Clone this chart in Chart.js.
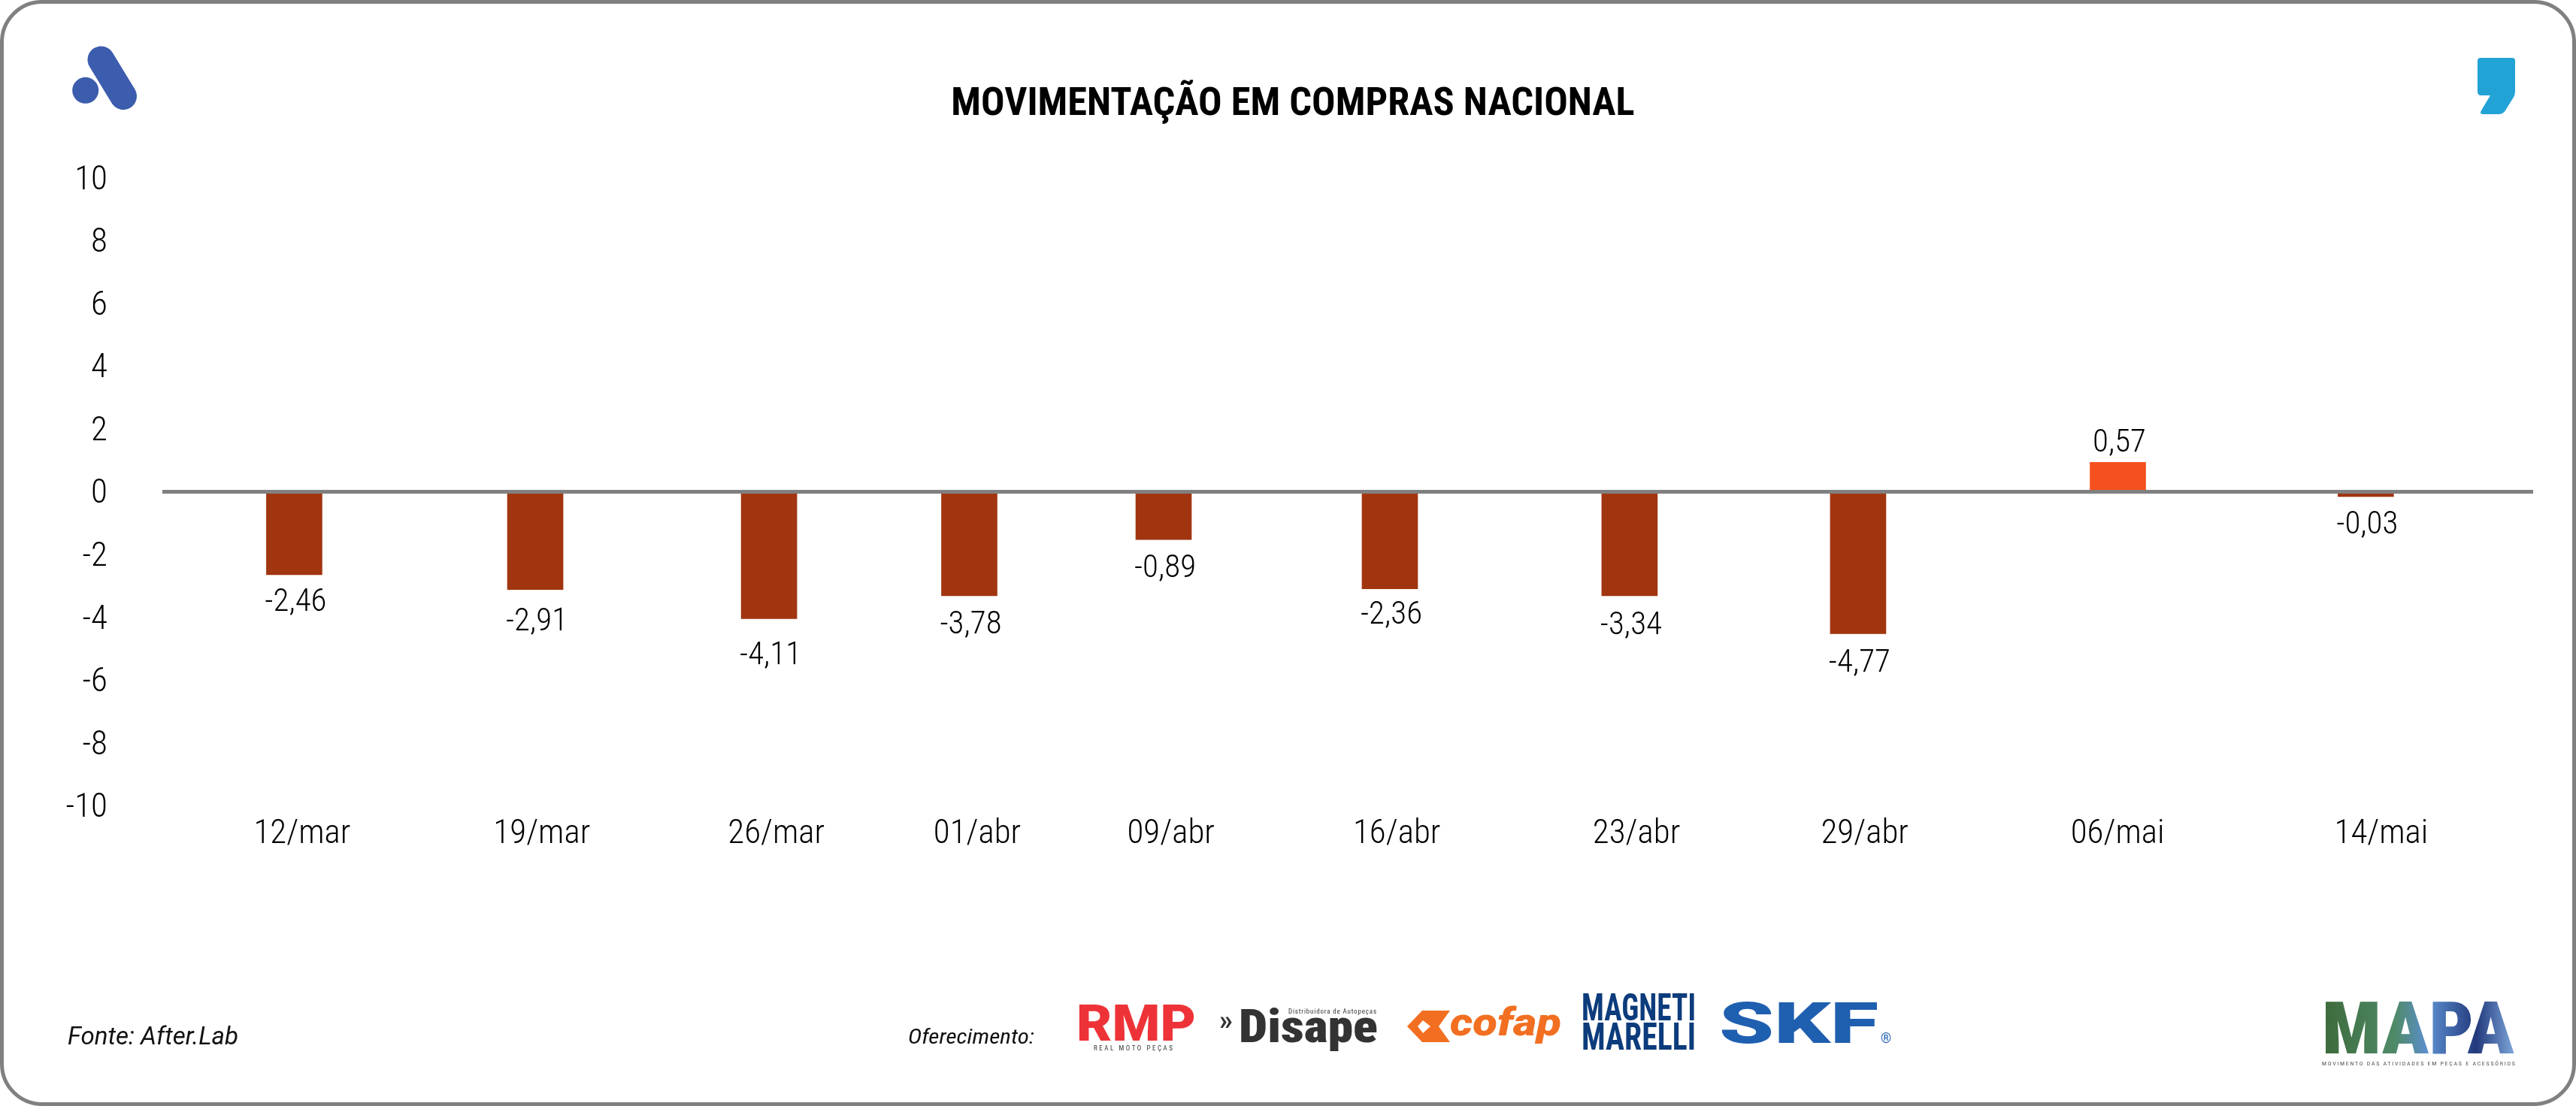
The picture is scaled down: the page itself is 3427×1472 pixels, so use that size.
<!DOCTYPE html>
<html lang="pt-BR">
<head>
<meta charset="utf-8">
<title>Movimentação em compras nacional</title>
<script src="https://cdn.jsdelivr.net/npm/chart.js@4"></script>
<style>
    html, body { margin: 0; background: #fff; overflow: hidden; }
    #tela { position: absolute; left: 0; top: 0; width: 3427px; height: 1472px; }
    #moldura { position: absolute; left: 0; top: 0; width: 3427px; height: 1472px; box-sizing: border-box;
        border: 5px solid #808080; border-radius: 56px; }
    #marcas { position: absolute; left: 0; top: 0; font-family: Roboto, sans-serif; }
</style>
</head>
<body>
<div id="moldura"></div>
<canvas id="tela" width="3427" height="1472"></canvas>

<svg id="marcas" width="3427" height="1472" xmlns="http://www.w3.org/2000/svg">
    <defs>
        <linearGradient id="gradMapa" x1="0" y1="0" x2="1" y2="0">
            <stop offset="0" stop-color="#3d6a3a"/>
            <stop offset="0.38" stop-color="#4f8a68"/>
            <stop offset="0.55" stop-color="#5c8fd0"/>
            <stop offset="0.8" stop-color="#22397c"/>
            <stop offset="1" stop-color="#7fa8dc"/>
        </linearGradient>
    </defs>

    <!-- logo superior esquerdo -->
    <circle cx="113.7" cy="120.3" r="17.5" fill="#3c5cad"/>
    <line x1="134.5" y1="79.5" x2="164" y2="128" stroke="#3c5cad" stroke-width="36" stroke-linecap="round"/>

    <!-- logo superior direito -->
    <path d="M3300 77 H3342 Q3346 77 3346 81 V122 Q3346 127 3343 131 L3333 147 Q3330 152 3324 152 H3304 Q3298 152 3301 147 L3313 127 H3301 Q3296 127 3296 122 V81 Q3296 77 3300 77 Z" fill="#22a3d6"/>

    <text x="90" y="1390" font-style="italic" font-size="33" textLength="227" lengthAdjust="spacingAndGlyphs" fill="#111">Fonte: After.Lab</text>
    <text x="1208" y="1389" font-style="italic" font-stretch="condensed" font-size="27" textLength="168" lengthAdjust="spacingAndGlyphs" fill="#111">Oferecimento:</text>

    <!-- patrocinadores -->
    <text x="1432" y="1385" font-weight="900" font-size="67" textLength="159" lengthAdjust="spacingAndGlyphs" fill="#ee3338">RMP</text>
    <text x="1455" y="1398" font-stretch="condensed" font-size="9" textLength="105" fill="#333">REAL MOTO PEÇAS</text>

    <text x="1622" y="1370" font-weight="700" font-size="36" fill="#333">»</text>
    <text x="1648" y="1387" font-weight="900" font-stretch="condensed" font-size="62" textLength="185" lengthAdjust="spacingAndGlyphs" fill="#333">Disape</text>
    <text x="1714" y="1349" font-stretch="condensed" font-size="9" textLength="117" fill="#333">Distribuidora de Autopeças</text>

    <path d="M1892 1345 H1929 L1914 1366 L1929 1387 H1892 L1872 1366 Z" fill="#f26f21"/>
    <path d="M1893 1358 L1903 1366 L1893 1375 L1886 1366 Z" fill="#fff"/>
    <text x="1929" y="1378" font-weight="900" font-style="italic" font-size="52" textLength="148" lengthAdjust="spacingAndGlyphs" fill="#f26f21">cofap</text>

    <text x="2104" y="1358" font-weight="700" font-stretch="condensed" font-size="50" textLength="152" lengthAdjust="spacingAndGlyphs" fill="#0c3c7c">MAGNETI</text>
    <text x="2104" y="1397" font-weight="700" font-stretch="condensed" font-size="50" textLength="152" lengthAdjust="spacingAndGlyphs" fill="#0c3c7c">MARELLI</text>

    <text x="2287" y="1388" font-weight="900" font-size="76" textLength="212" lengthAdjust="spacingAndGlyphs" fill="#1f5fb0">SKF</text>
    <text x="2502" y="1388" font-size="18" fill="#1f5fb0">®</text>

    <text x="3089" y="1402" font-weight="900" font-stretch="condensed" font-size="97" textLength="256" lengthAdjust="spacingAndGlyphs" fill="url(#gradMapa)">MAPA</text>
    <text x="3089" y="1418" font-stretch="condensed" font-size="8" textLength="257" fill="#555">MOVIMENTO DAS ATIVIDADES EM PEÇAS E ACESSÓRIOS</text>
</svg>

<script>
const datas = ['12/mar', '19/mar', '26/mar', '01/abr', '09/abr', '16/abr', '23/abr', '29/abr', '06/mai', '14/mai'];

// altura das barras lida no eixo (no original nao bate com o numero impresso)
const valores = [-2.65, -3.12, -4.05, -3.32, -1.53, -3.10, -3.32, -4.53, 0.93, -0.16];

// numeros impressos junto das barras
const rotulos = ['-2,46', '-2,91', '-4,11', '-3,78', '-0,89', '-2,36', '-3,34', '-4,77', '0,57', '-0,03'];

// o original nao espaca as datas por igual: posicao no eixo x, em dias
const dias = [0, 7.33, 14.44, 20.53, 26.44, 33.32, 40.61, 47.56, 55.46, 63];
const diasData = [0.24, 7.53, 14.66, 20.77, 26.66, 33.53, 40.82, 47.76, 55.45, 63.47];

// ajuste vertical de cada numero em relacao a distancia padrao
const ajusteRotulo = [-3, 4, 10, -1, -1, -4, 0, 0, -9, -2];

const fonte = 'Roboto, sans-serif';
// o peso vai junto com a largura porque o Chart.js nao tem opcao de font-stretch
const pesoTexto = '350 condensed';
const corNegativo = '#a1350f';
const corPositivo = '#f5511f';

const rotulosBarras = {
    id: 'rotulosBarras',
    afterDatasetsDraw(chart) {
        const ctx = chart.ctx;
        const barras = chart.getDatasetMeta(0).data;
        ctx.save();
        ctx.font = pesoTexto + ' 43px ' + fonte;
        ctx.fillStyle = '#000';
        ctx.textAlign = 'center';
        ctx.textBaseline = 'middle';
        barras.forEach((barra, i) => {
            const dist = 37 + ajusteRotulo[i];
            const y = valores[i] < 0 ? barra.y + dist : barra.y - dist;
            ctx.fillText(rotulos[i], barra.x + 2, y + 3);
        });
        ctx.restore();
    }
};

const ctx = document.getElementById('tela').getContext('2d');

new Chart(ctx, {
    type: 'bar',
    data: {
        datasets: [{
            data: dias.map((d, i) => ({ x: d, y: valores[i] })),
            backgroundColor: valores.map(v => v < 0 ? corNegativo : corPositivo),
            barThickness: 74
        }]
    },
    options: {
        responsive: false,
        animation: false,
        devicePixelRatio: 1,
        layout: { padding: { top: 108, left: 70, right: 57, bottom: 0 } },
        plugins: {
            legend: { display: false },
            tooltip: { enabled: false },
            title: {
                display: true,
                text: 'MOVIMENTAÇÃO EM COMPRAS NACIONAL',
                color: '#000',
                font: { family: fonte, size: 52.4, weight: '700 condensed', lineHeight: 1.2 },
                padding: { top: 0, bottom: 65.5 }
            }
        },
        scales: {
            x: {
                type: 'linear',
                offset: false,
                min: -4.01,
                max: 68.09,
                grid: { display: false, offset: false },
                border: { display: false },
                afterBuildTicks: axis => { axis.ticks = diasData.map(v => ({ value: v })); },
                afterFit: axis => { axis.height = 400; },
                ticks: {
                    autoSkip: false,
                    maxRotation: 0,
                    padding: 4,
                    color: '#000',
                    font: { family: fonte, size: 45, weight: pesoTexto },
                    callback: (v, i) => datas[i]
                }
            },
            y: {
                min: -10,
                max: 10,
                border: { display: false },
                afterFit: axis => { axis.width = 146; },
                grid: {
                    z: 1,
                    drawTicks: false,
                    color: c => c.tick.value === 0 ? '#808080' : 'rgba(0,0,0,0)',
                    lineWidth: c => c.tick.value === 0 ? 5 : 0
                },
                ticks: {
                    stepSize: 2,
                    padding: 73,
                    color: '#000',
                    // linha vazia antes do numero: desce o texto 4px para alinhar com o original
                    font: { family: fonte, size: 45, weight: pesoTexto, lineHeight: 8 / 45 },
                    callback: v => ['', String(v)]
                }
            }
        }
    },
    plugins: [rotulosBarras]
});
</script>
</body>
</html>
